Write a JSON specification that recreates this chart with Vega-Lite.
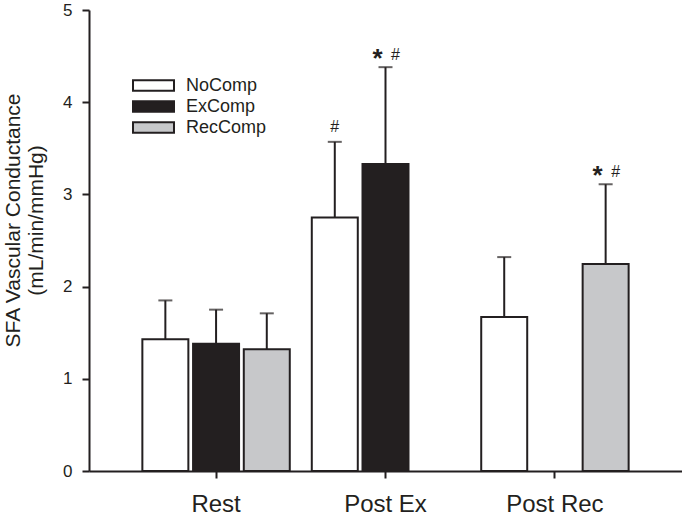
{
  "$schema": "https://vega.github.io/schema/vega-lite/v6.json",
  "width": 593,
  "height": 461,
  "autosize": {"type": "none"},
  "padding": {"left": 89, "top": 10, "right": 0, "bottom": 50},
  "background": "white",
  "config": {
    "view": {"stroke": null},
    "font": "Liberation Sans",
    "axis": {"domainColor": "#231f20", "domainWidth": 2, "tickColor": "#231f20", "tickWidth": 2, "labelColor": "#231f20", "titleColor": "#231f20", "grid": false, "labelFont": "Liberation Sans", "titleFont": "Liberation Sans"}
  },
  "data": {
    "values": [
      {"phase": "Rest", "group": "NoComp", "mean": 1.43, "upper": 1.85, "star": "", "hash": ""},
      {"phase": "Rest", "group": "ExComp", "mean": 1.38, "upper": 1.75, "star": "", "hash": ""},
      {"phase": "Rest", "group": "RecComp", "mean": 1.32, "upper": 1.71, "star": "", "hash": ""},
      {"phase": "Post Ex", "group": "NoComp", "mean": 2.75, "upper": 3.57, "star": "", "hash": "#"},
      {"phase": "Post Ex", "group": "ExComp", "mean": 3.33, "upper": 4.38, "star": "*", "hash": "#"},
      {"phase": "Post Rec", "group": "NoComp", "mean": 1.67, "upper": 2.32, "star": "", "hash": ""},
      {"phase": "Post Rec", "group": "RecComp", "mean": 2.245, "upper": 3.11, "star": "*", "hash": "#"}
    ]
  },
  "encoding": {
    "x": {
      "field": "phase", "type": "nominal", "sort": ["Rest", "Post Ex", "Post Rec"],
      "scale": {"paddingInner": 0, "paddingOuter": 0.25},
      "axis": {"title": null, "labelAngle": 0, "labelFontSize": 24, "tickSize": 7, "labelPadding": 14}
    },
    "xOffset": {
      "field": "group", "type": "nominal", "sort": ["NoComp", "ExComp", "RecComp"],
      "scale": {"domain": ["NoComp", "ExComp", "RecComp"], "paddingInner": 0.093, "paddingOuter": 0.217}
    }
  },
  "layer": [
    {
      "mark": {"type": "rule", "color": "#231f20", "strokeWidth": 2},
      "encoding": {
        "y": {"field": "mean", "type": "quantitative"},
        "y2": {"field": "upper"}
      }
    },
    {
      "mark": {"type": "tick", "color": "#231f20", "thickness": 2, "size": 14, "orient": "horizontal"},
      "encoding": {
        "y": {"field": "upper", "type": "quantitative"}
      }
    },
    {
      "mark": {"type": "bar", "stroke": "#231f20", "strokeWidth": 2},
      "encoding": {
        "y": {
          "field": "mean", "type": "quantitative",
          "scale": {"domain": [0, 5], "nice": false},
          "axis": {"values": [0, 1, 2, 3, 4, 5], "format": "d", "title": ["SFA Vascular Conductance", "(mL/min/mmHg)"], "titleFontSize": 21, "titleFontWeight": "normal", "titlePadding": 16, "titleY": 210, "labelFontSize": 17, "tickSize": 7, "labelPadding": 10}
        },
        "fill": {
          "field": "group", "type": "nominal",
          "scale": {"domain": ["NoComp", "ExComp", "RecComp"], "range": ["#ffffff", "#231f20", "#c7c8ca"]},
          "legend": {
            "title": null, "orient": "none", "legendX": 53, "legendY": 64, "padding": 0,
            "symbolType": "M-2,-0.52H2V0.52H-2Z", "symbolSize": 420, "symbolStrokeColor": "#231f20", "symbolStrokeWidth": 2,
            "labelFontSize": 18, "labelColor": "#231f20", "labelFont": "Liberation Sans", "labelOffset": 21, "rowPadding": 0
          }
        }
      }
    },
    {
      "transform": [{"filter": "datum.star != ''"}],
      "mark": {"type": "text", "fontSize": 26, "fontWeight": "bold", "color": "#231f20", "dx": -8, "dy": 5, "baseline": "bottom"},
      "encoding": {
        "y": {"field": "upper", "type": "quantitative"},
        "text": {"field": "star"}
      }
    },
    {
      "transform": [{"filter": "datum.hash != '' && datum.star != ''"}],
      "mark": {"type": "text", "fontSize": 16, "color": "#231f20", "dx": 10, "dy": -4, "baseline": "bottom"},
      "encoding": {
        "y": {"field": "upper", "type": "quantitative"},
        "text": {"field": "hash"}
      }
    },
    {
      "transform": [{"filter": "datum.hash != '' && datum.star == ''"}],
      "mark": {"type": "text", "fontSize": 16, "color": "#231f20", "dy": -7, "baseline": "bottom"},
      "encoding": {
        "y": {"field": "upper", "type": "quantitative"},
        "text": {"field": "hash"}
      }
    }
  ]
}
